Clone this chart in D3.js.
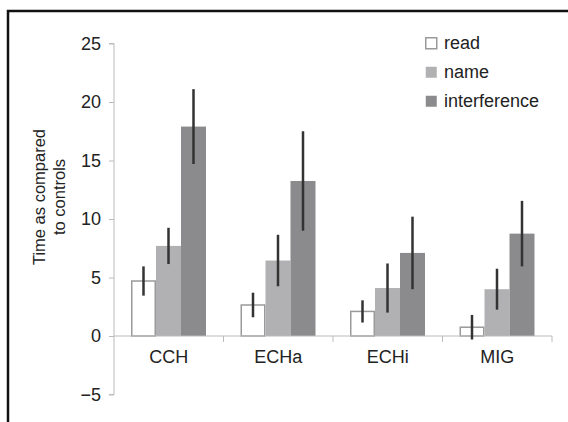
<!DOCTYPE html>
<html>
<head>
<meta charset="utf-8">
<script src="https://cdn.jsdelivr.net/npm/d3@7"></script>
<style>
  body { margin: 0; background: #fff; }
  text { font-family: "Liberation Sans", Arial, sans-serif; fill: #222; }
  .axis path, .axis line { stroke: #bbb; }
</style>
</head>
<body>
<div id="chart"></div>
<script>
// chart values
let groups = ['CCH', 'ECHa', 'ECHi', 'MIG'];
let series = ['read', 'name', 'interference'];
let readMean = [4.7, 2.65, 2.1, 0.75];
let readErr = [1.25, 1.05, 0.95, 1.05];
let nameMean = [7.7, 6.45, 4.1, 4.0];
let nameErr = [1.55, 2.2, 2.1, 1.75];
let interfMean = [17.9, 13.25, 7.1, 8.75];
let interfErr = [3.2, 4.25, 3.1, 2.8];
let yTicks = [-5, 0, 5, 10, 15, 20, 25];

let fills = ['#ffffff', '#b1b1b3', '#8b8b8d'];
let strokes = ['#9a9a9a', 'none', 'none'];

let width = 568, height = 422;
let svg = d3.select('#chart').append('svg')
    .attr('width', width)
    .attr('height', height);

// frame (cropped at right and bottom)
svg.append('path')
    .attr('d', 'M8,' + height + 'V11H' + width)
    .attr('fill', 'none')
    .attr('stroke', '#111')
    .attr('stroke-width', 2.5);

let y = d3.scaleLinear().domain([-5, 25]).range([394.5, 43.5]);
let x0 = d3.scaleBand().domain(groups).range([114, 552]);
let x1 = d3.scaleBand().domain(series).range([17, 17 + 75]);

// y axis
let yAxis = svg.append('g')
    .attr('class', 'axis')
    .attr('transform', 'translate(114,0)')
    .call(d3.axisLeft(y).tickValues(yTicks).tickSize(5).tickPadding(8)
        .tickFormat(d => d < 0 ? '\u2212' + Math.abs(d) : d));
yAxis.select('.domain').attr('d', 'M-5,' + y(25) + 'H0V' + y(-5) + 'H-5');
yAxis.selectAll('text').style('font-size', '18px').attr('fill', '#222');

// rows of data per series
let table = series.map((s, si) => groups.map((g, gi) => ({
    group: g,
    series: s,
    si: si,
    mean: [readMean, nameMean, interfMean][si][gi],
    err: [readErr, nameErr, interfErr][si][gi]
})));

// bars
svg.append('g').selectAll('g')
    .data(table)
    .enter().append('g')
    .selectAll('rect')
    .data(d => d)
    .enter().append('rect')
    .attr('x', d => x0(d.group) + x1(d.series) + (d.si === 0 ? 0.75 : 0))
    .attr('y', d => y(d.mean))
    .attr('width', d => x1.bandwidth() - (d.si === 0 ? 1.5 : 0))
    .attr('height', d => y(0) - y(d.mean))
    .attr('fill', d => fills[d.si])
    .attr('stroke', d => strokes[d.si])
    .attr('stroke-width', 1.5);

// x axis on zero line
let xAxis = svg.append('g')
    .attr('class', 'axis')
    .attr('transform', 'translate(0,' + y(0) + ')');
xAxis.append('line')
    .attr('x1', 114).attr('x2', 552)
    .attr('y1', 0).attr('y2', 0);
xAxis.selectAll('line.tick')
    .data(groups.slice(1).map(g => x0(g)).concat([552]))
    .enter().append('line')
    .attr('class', 'tick')
    .attr('x1', d => d).attr('x2', d => d)
    .attr('y1', 0).attr('y2', 6);
xAxis.selectAll('text')
    .data(groups)
    .enter().append('text')
    .attr('x', d => x0(d) + x0.bandwidth() / 2)
    .attr('y', 27)
    .attr('text-anchor', 'middle')
    .style('font-size', '18px')
    .text(d => d);

// error bars
svg.append('g').selectAll('line')
    .data(table.flat())
    .enter().append('line')
    .attr('x1', d => x0(d.group) + x1(d.series) + x1.bandwidth() / 2)
    .attr('x2', d => x0(d.group) + x1(d.series) + x1.bandwidth() / 2)
    .attr('y1', d => y(d.mean + d.err))
    .attr('y2', d => y(d.mean - d.err))
    .attr('stroke', '#333')
    .attr('stroke-width', 2.5);

// y label, two lines
let ylab = svg.append('text')
    .attr('transform', 'translate(45,197) rotate(-90)')
    .attr('text-anchor', 'middle')
    .style('font-size', '16.5px');
ylab.append('tspan').attr('x', 0).attr('dy', 0).text('Time as compared');
ylab.append('tspan').attr('x', 0).attr('dy', 20).text('to controls');

// legend
let legend = svg.append('g').selectAll('g')
    .data(series)
    .enter().append('g')
    .attr('transform', (d, i) => 'translate(425,' + (37 + i * 29) + ')');
legend.append('rect')
    .attr('x', 0.75).attr('y', 0.75)
    .attr('width', 11).attr('height', 11)
    .attr('fill', (d, i) => fills[i])
    .attr('stroke', (d, i) => i === 0 ? strokes[0] : 'none')
    .attr('stroke-width', 1.5);
legend.append('text')
    .attr('x', 19)
    .attr('y', 12)
    .style('font-size', '18px')
    .text(d => d);
</script>
</body>
</html>
